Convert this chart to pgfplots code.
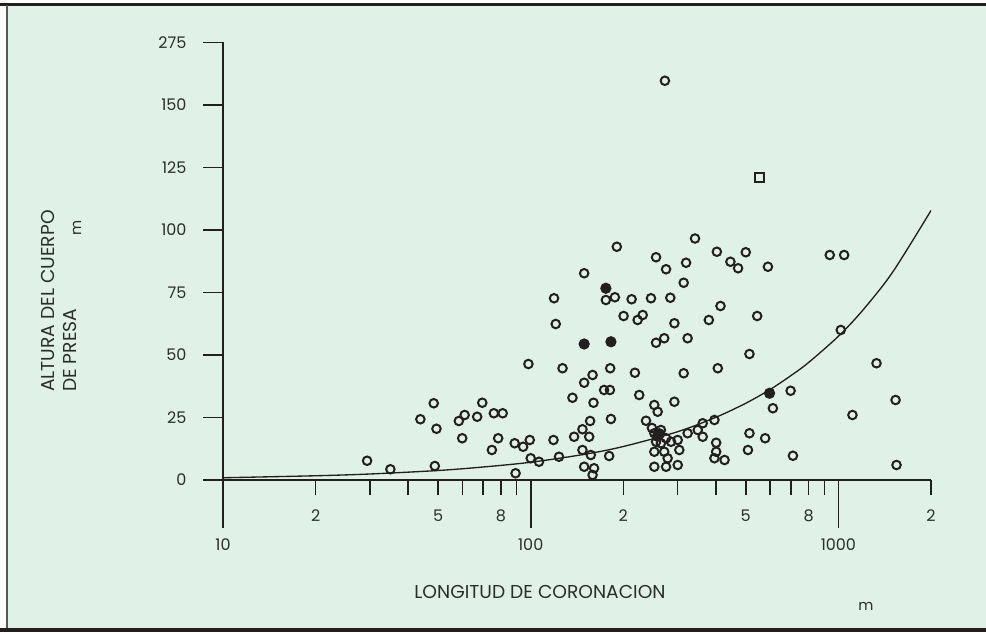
\documentclass[border=0pt]{standalone}
\usepackage{pgfplots}
\pgfplotsset{compat=1.18}
\usepackage{pgfplotstable}
\usepackage{fontspec}
\setmainfont{Poppins}
\definecolor{bg}{RGB}{224,241,231}
\definecolor{ink}{RGB}{35,31,32}
\definecolor{txt}{RGB}{45,45,45}

\pgfplotsset{mychartbase/.style={scale only axis, width=531pt, height=328.125pt,
  at={(0pt,0pt)}, anchor=south west, xmin=10, xmax=2000, ymin=0, ymax=175,
  tick style={ink, line width=1.2pt},
  ticklabel style={font=\fontsize{12}{14}\selectfont, text=txt}},
  mychartlines/.style={tick align=outside,
  axis line style={ink, line width=1.2pt, -},
  x axis line style={-}, y axis line style={-},
  every inner x axis line/.append style={-}, every outer x axis line/.append style={-},
  every inner y axis line/.append style={-}, every outer y axis line/.append style={-}}}

\pgfplotstableread{
x y
29.4 7.7
35.0 4.3
48.8 5.6
48.4 30.7
43.8 24.3
49.4 20.5
69.6 30.9
61.0 26.0
58.4 23.6
67.0 25.3
75.9 26.7
81.1 26.7
59.9 16.7
78.4 16.7
74.8 12.0
88.7 14.7
99.3 16.0
94.5 13.3
118.6 16.0
100 8.7
106.4 7.3
123.6 9.3
89.3 2.7
98.3 46.4
119.1 72.7
120.6 62.4
126.9 44.7
190.5 93.3
342 96.6
402.7 91.3
500 91.1
445.7 87.3
472.1 84.7
255.5 89.1
275.4 84.3
319.9 86.9
314.2 78.9
149.2 82.7
187.8 73.1
175.5 72.0
212.8 72.3
246 72.7
284.3 72.9
413.8 69.6
544.6 65.6
200.4 65.6
231.2 66.0
222.6 64.0
293.1 62.7
379.3 64.0
271.6 56.7
255.5 54.9
323.6 56.7
514 50.4
158.9 42.0
149.2 38.9
181.3 44.7
218.1 42.9
314.2 42.7
405.5 44.7
173.2 36.0
180.9 36.0
136.7 32.9
160 30.9
225.3 34.0
293.1 31.3
252.2 30.0
258.6 27.3
182.3 24.4
156 23.6
147.3 20.3
138.4 17.3
154.9 17.3
237 23.7
147.3 12.0
156.8 10.0
179.9 9.6
149.2 5.3
160.7 4.7
158.9 2.0
252.2 18.7
265 20.0
275.4 16.7
255.5 15.3
265 14.7
285.8 15.3
300.5 16.0
247.8 20.8
252.2 11.3
271.6 11.3
304.1 12.0
278.6 8.7
300.5 6.0
252.2 5.3
275.4 5.3
323.6 18.7
349.1 20.0
362.3 22.7
395.5 24.0
362.3 17.3
400.6 14.9
400.6 11.3
395.5 8.7
426.6 8.0
514 18.7
508.2 12.0
578.1 16.7
590.2 85.3
937.5 90.0
1044 90.0
1018 60.0
1330 46.7
699.4 35.7
612.5 28.7
1534 32.0
1111 26.0
711.6 9.7
1545 6.0
273 159.7
}\opendata

\pgfplotstableread{
x y
175.5 76.7
149.2 54.4
182.3 55.3
597.5 34.7
258 17.5
262 18.5
}\filleddata

\pgfplotstableread{
x y
554.2 121.1
}\squaredata

\pgfplotstableread{
x y
10 0.9
20 1.7
30 2.4
50 3.8
70 5.2
100 7.1
150 10.3
200 13.4
300 19.3
400 25.1
500 30.7
600 36.2
700 41.7
800 47.0
1000 57.5
1200 67.9
1500 83.1
2000 107.8
}\curvedata

\begin{document}
\begin{tikzpicture}
\useasboundingbox (-167.25pt,-114.75pt) rectangle (572.25pt,360pt);
\fill[white] (-167.25pt,-114.75pt) rectangle (572.25pt,360pt);
\fill[bg] (-162pt,-112.5pt) rectangle (572.25pt,356.25pt);
\draw[ink, line width=2.25pt] (-167.25pt,356.25pt) -- (572.25pt,356.25pt);
\draw[ink!75, line width=1.5pt] (-162pt,-112.5pt) -- (-162pt,356.25pt);
\draw[ink, line width=2.5pt] (-167.25pt,-112.5pt) -- (572.25pt,-112.5pt);

% short labelled ticks 2,5,8 and minor ticks
\begin{semilogxaxis}[mychartbase, axis x line=bottom, axis y line=none, mychartlines,
  ytick=\empty,
  xtick={20,50,80,200,500,800,2000}, xticklabels={2,5,8,2,5,8,2},
  minor xtick={30,40,60,70,90,300,400,600,700,900},
  major tick length=11.25pt, minor tick length=11.25pt,
  xticklabel style={yshift=-7.5pt}]
\addplot[draw=none, forget plot] coordinates {(10,0) (2000,0)};
\end{semilogxaxis}

% long decade ticks
\begin{semilogxaxis}[mychartbase, axis x line=bottom, axis y line=none, mychartlines,
  ytick=\empty,
  xtick={10,100,1000}, xticklabels={10,100,1000},
  major tick length=36pt, minor tick length=11.25pt,
  xticklabel style={yshift=-4.5pt}]
\addplot[draw=none, forget plot] coordinates {(10,0) (2000,0)};
\end{semilogxaxis}

% main axis with data
\begin{semilogxaxis}[mychartbase, axis x line=bottom, axis y line=left, mychartlines,
  xtick=\empty,
  ytick={0,25,50,75,100,125,150,175}, yticklabels={0,25,50,75,100,125,150,275},
  major tick length=15pt, yticklabel style={xshift=-9pt}]
\addplot[ink, line width=1pt, smooth, no marks] table {\curvedata};
\addplot[only marks, mark=o, mark size=3.2pt, ink, line width=1.5pt] table {\opendata};
\addplot[only marks, mark=*, mark size=3.6pt, ink, fill=ink, line width=1.2pt] table {\filleddata};
\addplot[only marks, mark=square, mark size=3.2pt, ink, line width=1.5pt] table {\squaredata};
\end{semilogxaxis}

\node[rotate=90, align=left, anchor=north east, inner sep=0pt, text=txt,
  font=\fontsize{14}{16.5}\selectfont] at (-136.5pt,202.5pt) {ALTURA DEL CUERPO\\DE PRESA};
\node[rotate=90, text=txt, font=\fontsize{11}{13}\selectfont] at (-109.5pt,189pt) {m};
\node[text=txt, font=\fontsize{14}{16}\selectfont] at (237.75pt,-84pt) {LONGITUD DE CORONACION};
\node[text=txt, font=\fontsize{11}{13}\selectfont] at (482.25pt,-94.5pt) {m};
\end{tikzpicture}
\end{document}
